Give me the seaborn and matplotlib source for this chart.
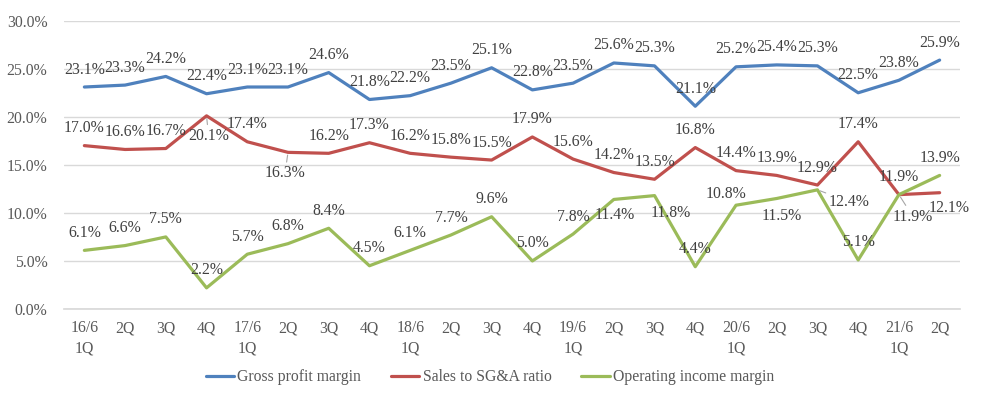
import matplotlib
matplotlib.use("Agg")
import matplotlib.pyplot as plt
import seaborn as sns
import pandas as pd

# quarter labels (fiscal year ending June)
quarters = ["16/6\n1Q", "2Q", "3Q", "4Q", "17/6\n1Q", "2Q", "3Q", "4Q",
            "18/6\n1Q", "2Q", "3Q", "4Q", "19/6\n1Q", "2Q", "3Q", "4Q",
            "20/6\n1Q", "2Q", "3Q", "4Q", "21/6\n1Q", "2Q"]

gross_margin = [23.1, 23.3, 24.2, 22.4, 23.1, 23.1, 24.6, 21.8, 22.2, 23.5, 25.1,
                22.8, 23.5, 25.6, 25.3, 21.1, 25.2, 25.4, 25.3, 22.5, 23.8, 25.9]
sga_ratio = [17.0, 16.6, 16.7, 20.1, 17.4, 16.3, 16.2, 17.3, 16.2, 15.8, 15.5,
             17.9, 15.6, 14.2, 13.5, 16.8, 14.4, 13.9, 12.9, 17.4, 11.9, 12.1]
op_margin = [6.1, 6.6, 7.5, 2.2, 5.7, 6.8, 8.4, 4.5, 6.1, 7.7, 9.6,
             5.0, 7.8, 11.4, 11.8, 4.4, 10.8, 11.5, 12.4, 5.1, 11.9, 13.9]

series_names = ["Gross profit margin", "Sales to SG&A ratio", "Operating income margin"]
colors = ["#4F81BD", "#C0504D", "#9BBB59"]

# data label offsets in pixels (default: centered above the point)
label_offsets = {
    ("Sales to SG&A ratio", 3): (2, -20, True),
    ("Sales to SG&A ratio", 5): (-3, -21, True),
    ("Sales to SG&A ratio", 21): (9, -15, False),
    ("Operating income margin", 13): (1, -16, False),
    ("Operating income margin", 14): (16, -17, False),
    ("Operating income margin", 16): (-10, 11, False),
    ("Operating income margin", 17): (5, -18, False),
    ("Operating income margin", 18): (32, -12, True),
    ("Operating income margin", 20): (14, -22, True),
}

frames = []
for name, vals in zip(series_names, [gross_margin, sga_ratio, op_margin]):
    frames.append(pd.DataFrame({"x": range(len(quarters)),
                                "value": [v / 100 for v in vals],
                                "series": name}))
df = pd.concat(frames, ignore_index=True)

sns.set_theme(style="white")
plt.rcParams["font.family"] = ["Liberation Serif", "DejaVu Serif"]

fig = plt.figure(figsize=(9.89, 3.94), dpi=100)
ax = fig.add_axes([64 / 989, 1 - 309 / 394, 896 / 989, (309 - 20.7) / 394])

sns.lineplot(data=df, x="x", y="value", hue="series", hue_order=series_names,
             palette=colors, linewidth=2.3, ax=ax, legend=True)

text_color = "#404040"
for name in series_names:
    sub = df[df["series"] == name]
    for i, v in zip(sub["x"], sub["value"]):
        dx, dy, leader = label_offsets.get((name, i), (0, 17.5, False))
        kw = {}
        if leader:
            kw["arrowprops"] = dict(arrowstyle="-", color="#A6A6A6", lw=0.8,
                                    shrinkA=0, shrinkB=2)
        ax.annotate(f"{v:.1%}", xy=(i, v), xytext=(dx, dy), textcoords="offset pixels",
                    ha="center", va="center", fontsize=11.3, color=text_color, **kw)

ax.set_xlim(-0.5, len(quarters) - 0.5)
ax.set_ylim(0, 0.30)
ax.set_yticks([0, 0.05, 0.10, 0.15, 0.20, 0.25, 0.30])
ax.set_yticklabels([f"{t:.1%}" for t in ax.get_yticks()])
ax.set_xticks(range(len(quarters)))
ax.set_xticklabels(quarters, linespacing=1.35)
ax.tick_params(axis="both", length=0, labelsize=11.3, labelcolor="#595959")
ax.tick_params(axis="x", pad=8)
ax.tick_params(axis="y", pad=12)
ax.grid(axis="y", color="#D9D9D9", linewidth=1)
ax.set_axisbelow(True)
for side in ["top", "right", "left"]:
    ax.spines[side].set_visible(False)
ax.spines["bottom"].set_color("#D9D9D9")
ax.set_xlabel("")
ax.set_ylabel("")

handles, labels = ax.get_legend_handles_labels()
ax.get_legend().remove()
for h in handles:
    h.set_linewidth(2.3)
fig.legend(handles, labels, loc="center", bbox_to_anchor=(490 / 989, 1 - 377 / 394),
           ncol=3, frameon=False, fontsize=11.3, handlelength=1.8, handletextpad=0.2,
           columnspacing=1.9, labelcolor="#595959")

fig.savefig("out.png", dpi=100)
